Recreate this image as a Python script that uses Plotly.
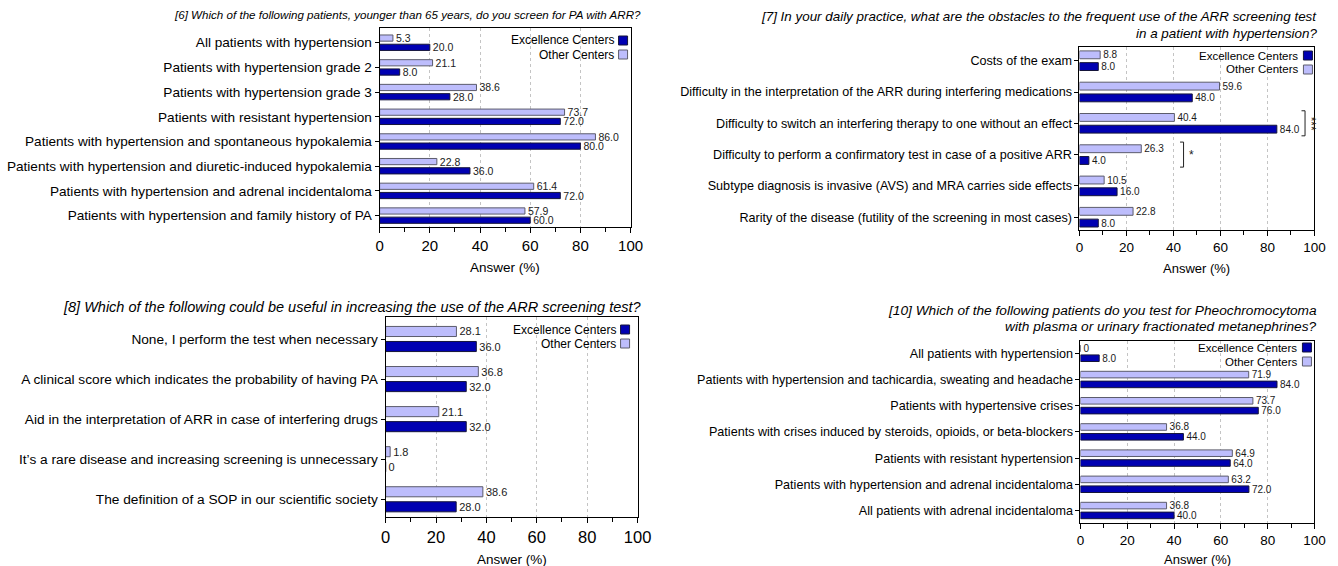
import plotly.graph_objects as go

# ---------------- data ----------------
q6_title = ["[6] Which of the following patients, younger than 65 years, do you screen for PA with ARR?"]
q6_categories = [
    "All patients with hypertension",
    "Patients with hypertension grade 2",
    "Patients with hypertension grade 3",
    "Patients with resistant hypertension",
    "Patients with hypertension and spontaneous hypokalemia",
    "Patients with hypertension and diuretic-induced hypokalemia",
    "Patients with hypertension and adrenal incidentaloma",
    "Patients with hypertension and family history of PA",
]
q6_excellence = [20.0, 8.0, 28.0, 72.0, 80.0, 36.0, 72.0, 60.0]
q6_other = [5.3, 21.1, 38.6, 73.7, 86.0, 22.8, 61.4, 57.9]

q7_title = ["[7] In your daily practice, what are the obstacles to the frequent use of the ARR screening test",
            "in a patient with hypertension?"]
q7_categories = [
    "Costs of the exam",
    "Difficulty in the interpretation of the ARR during interfering medications",
    "Difficulty to switch an interfering therapy to one without an effect",
    "Difficulty to perform a confirmatory test in case of a positive ARR",
    "Subtype diagnosis is invasive (AVS) and MRA carries side effects",
    "Rarity of the disease (futility of the screening in most cases)",
]
q7_excellence = [8.0, 48.0, 84.0, 4.0, 16.0, 8.0]
q7_other = [8.8, 59.6, 40.4, 26.3, 10.5, 22.8]
q7_significance_categories = [2, 3]
q7_significance_labels = ["***", "*"]

q8_title = ["[8] Which of the following could be useful in increasing the use of the ARR screening test?"]
q8_categories = [
    "None, I perform the test when necessary",
    "A clinical score which indicates the probability of having PA",
    "Aid in the interpretation of ARR in case of interfering drugs",
    "It\u2019s a rare disease and increasing screening is unnecessary",
    "The definition of a SOP in our scientific society",
]
q8_excellence = [36.0, 32.0, 32.0, 0.0, 28.0]
q8_other = [28.1, 36.8, 21.1, 1.8, 38.6]

q10_title = ["[10] Which of the following patients do you test for Pheochromocytoma",
             "with plasma or urinary fractionated metanephrines?"]
q10_categories = [
    "All patients with hypertension",
    "Patients with hypertension and tachicardia, sweating and headache",
    "Patients with hypertensive crises",
    "Patients with crises induced by steroids, opioids, or beta-blockers",
    "Patients with resistant hypertension",
    "Patients with hypertension and adrenal incidentaloma",
    "All patients with adrenal incidentaloma",
]
q10_excellence = [8.0, 84.0, 76.0, 44.0, 64.0, 72.0, 40.0]
q10_other = [0.0, 71.9, 73.7, 36.8, 64.9, 63.2, 36.8]

series_names = ["Excellence Centers", "Other Centers"]
x_ticks = [0, 20, 40, 60, 80, 100]
x_title = "Answer (%)"

# ---------------- style ----------------
W, H = 1338, 566
FONT = "Liberation Sans, Arial, sans-serif"
EXC_COLOR, EXC_LINE = "#0000b2", "#15153a"
OTH_COLOR, OTH_LINE = "#bdbdfc", "#5c5c6c"
TXT = "#1a1a1a"

# the captured page appears slightly compressed horizontally; compensate
SX, OX = 0.986, 4.3


def fx(p):
    return ((p - OX) / SX) / W


def fy(p):
    return 1 - p / H


# geometry in target pixels
panels = [
    dict(title=q6_title, cats=q6_categories, exc=q6_excellence, oth=q6_other,
         x0=379, x1=630, y0=28, y1=227, c0=42.7, cs=24.7,
         title_right=642, title_y=[15], title_size=11.6,
         lab_size=13.6, tick_size=15, val_size=10.5, axt_size=13.5, axt_y=267,
         leg_xr=627, leg_y=36, leg_size=12),
    dict(title=q7_title, cats=q7_categories, exc=q7_excellence, oth=q7_other,
         x0=1079, x1=1314, y0=47, y1=230, c0=60.7, cs=31.3,
         title_right=1319, title_y=[16.5, 33.3], title_size=13.4,
         lab_size=12.6, tick_size=13.5, val_size=10, axt_size=13, axt_y=268,
         leg_xr=1312, leg_y=51, leg_size=11.5),
    dict(title=q8_title, cats=q8_categories, exc=q8_excellence, oth=q8_other,
         x0=385, x1=637, y0=317, y1=517, c0=339, cs=40.07,
         title_right=643, title_y=[306.5], title_size=14.5,
         lab_size=13.7, tick_size=16.5, val_size=11, axt_size=13.5, axt_y=559,
         leg_xr=629, leg_y=325, leg_size=12),
    dict(title=q10_title, cats=q10_categories, exc=q10_excellence, oth=q10_other,
         x0=1080, x1=1314, y0=341, y1=523, c0=353.3, cs=26.2,
         title_right=1319, title_y=[310, 326], title_size=13.7,
         lab_size=12.6, tick_size=13.5, val_size=10, axt_size=13, axt_y=559,
         leg_xr=1311, leg_y=343, leg_size=11.5),
]


def fmt(v):
    return "0" if v == 0 else f"{v:.1f}"


fig = go.Figure()
annotations = []
shapes = []
layout_axes = {}

for i, p in enumerate(panels):
    n = i + 1
    xa = "x" if n == 1 else f"x{n}"
    ya = "y" if n == 1 else f"y{n}"
    xkey = "xaxis" if n == 1 else f"xaxis{n}"
    ykey = "yaxis" if n == 1 else f"yaxis{n}"
    top = -(p["c0"] - p["y0"]) / p["cs"]
    bot = (p["y1"] - p["c0"]) / p["cs"]

    for name, vals, col, lcol in [(series_names[1], p["oth"], OTH_COLOR, OTH_LINE),
                                  (series_names[0], p["exc"], EXC_COLOR, EXC_LINE)]:
        fig.add_trace(go.Bar(
            y=p["cats"], x=vals, orientation="h", name=name,
            marker=dict(color=col, line=dict(color=lcol, width=1)),
            text=[fmt(v) for v in vals], textposition="outside",
            constraintext="none", cliponaxis=False,
            outsidetextfont=dict(family=FONT, size=p["val_size"], color=TXT),
            xaxis=xa, yaxis=ya, showlegend=False, hoverinfo="skip"))

    layout_axes[xkey] = dict(
        domain=[fx(p["x0"]), fx(p["x1"])], anchor=ya, range=[0, 100],
        tickvals=x_ticks, ticks="outside", ticklen=5, tickcolor="black",
        minor=dict(dtick=10, tick0=0, ticks="outside", ticklen=4, tickcolor="black", showgrid=False),
        showgrid=True, gridcolor="#c4c4c4", griddash="dot", gridwidth=1,
        zeroline=False, showline=True, linecolor="black", linewidth=1, mirror=True,
        tickfont=dict(family=FONT, size=p["tick_size"], color="black"), fixedrange=True)
    layout_axes[ykey] = dict(
        domain=[fy(p["y1"]), fy(p["y0"])], anchor=xa, type="category",
        range=[bot, top], ticks="outside", ticklen=4, tickcolor="black",
        showgrid=False, zeroline=False, showline=True, linecolor="black", linewidth=1, mirror=True,
        tickfont=dict(family=FONT, size=p["lab_size"], color="black"), fixedrange=True)

    for line, ty in zip(p["title"], p["title_y"]):
        annotations.append(dict(
            text=f"<i>{line}</i>", x=fx(p["title_right"]), y=fy(ty), xref="paper", yref="paper",
            xanchor="right", yanchor="middle", showarrow=False,
            font=dict(family=FONT, size=p["title_size"], color="black")))
    annotations.append(dict(
        text=x_title, x=fx((p["x0"] + p["x1"]) / 2), y=fy(p["axt_y"]), xref="paper", yref="paper",
        xanchor="center", yanchor="middle", showarrow=False,
        font=dict(family=FONT, size=p["axt_size"], color="black")))
    for k, (name, col, lcol) in enumerate([(series_names[0], EXC_COLOR, EXC_LINE),
                                           (series_names[1], OTH_COLOR, OTH_LINE)]):
        ytop = p["leg_y"] + k * 14
        shapes.append(dict(type="rect", xref="paper", yref="paper",
                           x0=fx(p["leg_xr"] - 9), x1=fx(p["leg_xr"]),
                           y0=fy(ytop + 9), y1=fy(ytop),
                           fillcolor=col, line=dict(color=lcol, width=1)))
        annotations.append(dict(
            text=name, x=fx(p["leg_xr"] - 12), y=fy(ytop + 4.5), xref="paper", yref="paper",
            xanchor="right", yanchor="middle", showarrow=False,
            font=dict(family=FONT, size=p["leg_size"], color="black")))

bracket_x = [96.0, 44.3]
label_x = [98.4, 47.8]
for cat_idx, lab, bx, lx in zip(q7_significance_categories, q7_significance_labels, bracket_x, label_x):
    ya0, ya1 = cat_idx - 0.4, cat_idx + 0.4
    for seg in [(bx, ya0, bx, ya1), (bx - 1.5, ya0, bx, ya0), (bx - 1.5, ya1, bx, ya1)]:
        shapes.append(dict(type="line", xref="x2", yref="y2", x0=seg[0], y0=seg[1], x1=seg[2], y1=seg[3],
                           line=dict(color="#222222", width=1)))
    annotations.append(dict(text=lab, x=lx, y=cat_idx, xref="x2", yref="y2", showarrow=False,
                            textangle=90 if len(lab) > 1 else 0,
                            xanchor="center", yanchor="middle",
                            font=dict(family=FONT, size=12, color="#222222")))

fig.update_layout(
    width=W, height=H, margin=dict(l=0, r=0, t=0, b=0), autosize=False,
    paper_bgcolor="white", plot_bgcolor="white",
    barmode="group", bargap=0.25, bargroupgap=0.33,
    font=dict(family=FONT, color="black"),
    annotations=annotations, shapes=shapes, showlegend=False,
    **layout_axes)

fig.write_html(
    "out.html", include_plotlyjs=True, config={"displayModeBar": False},
    post_script=("document.documentElement.style.margin='0';document.documentElement.style.padding='0';"
                 "document.documentElement.style.overflow='hidden';"
                 "document.body.style.margin='0';document.body.style.padding='0';"
                 "document.body.style.overflow='hidden';"))
